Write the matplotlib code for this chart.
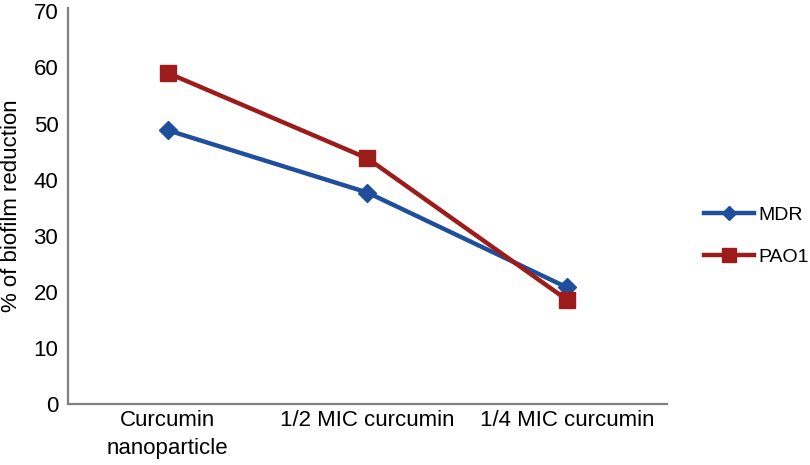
import numpy as np
import matplotlib
matplotlib.use("Agg")
import matplotlib.pyplot as plt

# Data
categories = ["Curcumin\nnanoparticle", "1/2 MIC curcumin", "1/4 MIC curcumin"]
mdr = [48.8, 37.7, 20.8]
pao1 = [59.0, 43.8, 18.6]

plt.rcParams['font.family'] = ['Liberation Sans', 'DejaVu Sans']

fig = plt.figure(figsize=(8.1, 4.65), dpi=100)
ax = fig.add_axes([0.084, 0.131, 0.739, 0.852])

x = np.arange(len(categories))
ax.plot(x, mdr, color="#1f4f9c", lw=3.2, marker="D", ms=9, label="MDR")
ax.plot(x, pao1, color="#9c1c1c", lw=3.2, marker="s", ms=12, label="PAO1")

ax.set_xlim(-0.5, 2.5)
ax.set_ylim(0, 70.6)
ax.set_yticks(np.arange(0, 71, 10))
ax.set_xticks(x)
ax.set_xticklabels(categories, fontsize=16, linespacing=1.45)
ax.tick_params(axis="y", labelsize=16, length=0, pad=7)
ax.tick_params(axis="x", length=0, pad=4)
ax.set_ylabel("% of biofilm reduction", fontsize=16)
ax.yaxis.set_label_coords(-0.077, 0.5)

for s in ["top", "right"]:
    ax.spines[s].set_visible(False)
for s in ["left", "bottom"]:
    ax.spines[s].set_color("#808080")
    ax.spines[s].set_linewidth(1.6)

ax.legend(loc="center left", bbox_to_anchor=(1.033, 0.424), frameon=False,
          fontsize=14, handlelength=2.6, labelspacing=1.25, handletextpad=0.2,
          markerscale=0.8)

fig.savefig("out.png", dpi=100)
